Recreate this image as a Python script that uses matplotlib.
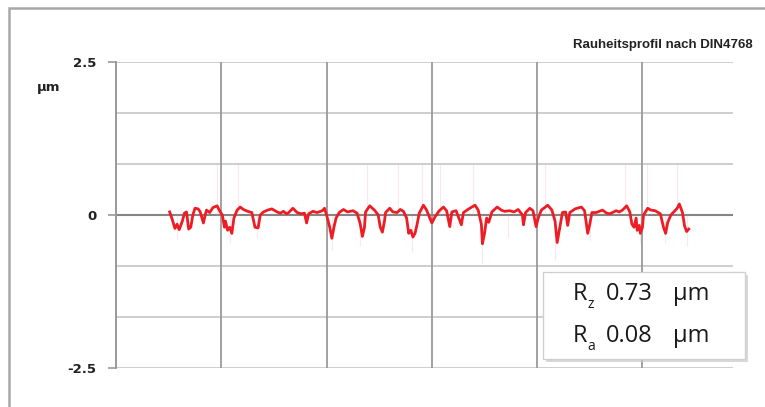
import matplotlib.pyplot as plt
import numpy as np
from matplotlib.patches import Rectangle

# Rauheitsprofil (gefiltert), x in mm, z in µm
profil_x = [
    0.51, 0.53, 0.56, 0.58, 0.60, 0.63, 0.65, 0.67, 0.69, 0.71, 0.73, 0.75, 0.78, 0.80,
    0.83, 0.85, 0.86, 0.89, 0.92, 0.96, 0.99, 1.01, 1.03, 1.04, 1.06, 1.08, 1.10, 1.12,
    1.15, 1.18, 1.21, 1.25, 1.29, 1.32, 1.35, 1.37, 1.40, 1.44, 1.48, 1.53, 1.56, 1.59,
    1.62, 1.64, 1.68, 1.72, 1.76, 1.79, 1.81, 1.83, 1.87, 1.91, 1.96, 1.98, 2.00, 2.03,
    2.05, 2.07, 2.09, 2.12, 2.16, 2.20, 2.25, 2.29, 2.32, 2.34, 2.36, 2.37, 2.41, 2.46,
    2.49, 2.51, 2.53, 2.55, 2.56, 2.60, 2.63, 2.67, 2.70, 2.73, 2.76, 2.78, 2.80, 2.82,
    2.84, 2.86, 2.88, 2.92, 2.95, 2.98, 3.00, 3.03, 3.07, 3.11, 3.14, 3.17, 3.19, 3.23,
    3.28, 3.30, 3.36, 3.41, 3.44, 3.47, 3.48, 3.50, 3.52, 3.54, 3.57, 3.62, 3.66, 3.69,
    3.74, 3.78, 3.82, 3.86, 3.87, 3.89, 3.93, 3.96, 3.99, 4.01, 4.04, 4.10, 4.14, 4.17,
    4.19, 4.21, 4.24, 4.27, 4.29, 4.31, 4.36, 4.42, 4.45, 4.48, 4.50, 4.52, 4.56, 4.62,
    4.66, 4.69, 4.75, 4.78, 4.81, 4.85, 4.88, 4.90, 4.92, 4.94, 4.95, 4.97, 4.98, 5.00,
    5.01, 5.05, 5.08, 5.12, 5.17, 5.20, 5.22, 5.24, 5.27, 5.33, 5.35, 5.38, 5.40, 5.42,
    5.44,
]
profil_z = [
    0.05, -0.05, -0.22, -0.15, -0.24, -0.10, 0.03, 0.05, -0.23, -0.20, 0.00, 0.11, 0.10, 0.05,
    -0.13, 0.02, 0.08, 0.04, 0.12, 0.15, 0.05, 0.00, -0.20, -0.10, -0.25, -0.20, -0.30, -0.05,
    0.08, 0.13, 0.09, 0.06, 0.04, -0.20, -0.21, 0.00, 0.05, 0.08, 0.10, 0.05, 0.03, 0.06,
    0.02, 0.04, 0.11, 0.04, 0.02, 0.03, -0.13, 0.02, 0.06, 0.04, 0.07, 0.11, 0.00, -0.20,
    -0.38, -0.20, -0.05, 0.04, 0.09, 0.05, 0.07, 0.03, -0.15, -0.35, -0.20, 0.05, 0.15, 0.07,
    0.00, -0.20, -0.28, -0.10, 0.04, 0.11, 0.05, 0.04, 0.09, 0.06, -0.05, -0.30, -0.25, -0.36,
    -0.30, -0.15, 0.03, 0.16, 0.08, -0.05, -0.13, -0.03, 0.07, 0.13, 0.07, -0.19, 0.05, 0.07,
    -0.16, 0.04, 0.11, 0.16, 0.08, -0.15, -0.47, -0.30, -0.05, -0.12, 0.05, 0.13, 0.08, 0.06,
    0.07, 0.05, 0.09, 0.00, -0.16, 0.04, 0.11, 0.07, -0.19, -0.05, 0.08, 0.16, 0.08, -0.10,
    -0.45, -0.25, 0.04, 0.05, -0.17, 0.04, 0.10, 0.13, 0.07, -0.30, -0.15, 0.04, 0.04, 0.08,
    0.03, 0.02, 0.07, 0.05, 0.08, 0.15, 0.05, -0.15, -0.20, -0.05, -0.25, -0.17, -0.30, -0.20,
    0.00, 0.11, 0.08, 0.07, 0.02, -0.20, -0.30, -0.12, 0.00, 0.11, 0.18, 0.04, -0.18, -0.27,
    -0.23,
]

# Ausreisser des ungefilterten Profils
spitzen_x = [0.96, 1.16, 2.38, 2.68, 2.91, 3.08, 3.39, 4.07, 4.83, 5.04, 5.33,
             0.58, 1.08, 1.34, 2.05, 2.32, 2.81, 3.48, 3.72, 4.17, 4.50, 4.98, 5.21, 5.42]
spitzen_z = [0.85, 0.85, 0.84, 0.84, 0.85, 0.83, 0.84, 0.84, 0.84, 0.85, 0.83,
             -0.40, -0.45, -0.38, -0.57, -0.50, -0.60, -0.78, -0.36, -0.73, -0.42, -0.45, -0.45, -0.50]

rz = 0.73
ra = 0.08

fig = plt.figure(figsize=(7.65, 4.07), dpi=100)
W, H = 765, 407

# Rahmen um das Diagramm
fig.patches.append(Rectangle((9 / W, -0.05), 1.0, 1 - 8 / H + 0.05,
                             transform=fig.transFigure, fill=False,
                             edgecolor='#a8a8a8', linewidth=1.8))

ax = fig.add_axes([116 / W, 1 - 368 / H, (733 - 116) / W, (368 - 62) / H])
ax.set_xlim(0, 5.86)
ax.set_ylim(-2.5, 2.5)

for s in ['top', 'right', 'bottom']:
    ax.spines[s].set_visible(False)
ax.spines['left'].set_color('#999999')
ax.spines['left'].set_linewidth(1.4)

# Gitter
for y in np.linspace(-2.5, 2.5, 7):
    if y != 0:
        ax.axhline(y, color='#c6c6c6', linewidth=1.2, zorder=0)
for x in range(1, 6):
    ax.axvline(x, color='#9a9a9a', linewidth=1.3, zorder=0)
ax.axhline(0, color='#858585', linewidth=1.5, zorder=1)

ax.vlines(spitzen_x, 0, spitzen_z, color='#f5b0b0', linewidth=0.8, alpha=0.3, zorder=2)
ax.plot(profil_x, profil_z, color='#ee1c24', linewidth=2.0, zorder=3)

ax.set_xticks([])
ax.set_yticks([-2.5, 0, 2.5])
ax.set_yticklabels(['-2.5', '0', '2.5'])
ax.tick_params(axis='y', length=6, width=1.2, color='#999999', pad=8,
               labelsize=9.5, labelcolor='#222222')
for t in ax.get_yticklabels():
    t.set_fontweight('bold')

fig.text(37 / W, 1 - 88 / H, 'µm', fontsize=9.5, fontweight='bold',
         ha='left', va='center', color='#222222')
fig.text(753 / W, 1 - 45 / H, 'Rauheitsprofil nach DIN4768', fontsize=9.5,
         fontweight='bold', ha='right', va='center', color='#222222',
         family='Liberation Sans')

# Kennwert-Box mit Schatten
bx0, by0, bx1, by1 = 543, 272, 745, 359
fig.patches.append(Rectangle(((bx0 + 3) / W, 1 - (by1 + 3) / H), (bx1 - bx0) / W,
                             (by1 - by0) / H, transform=fig.transFigure,
                             facecolor='#c8c8c8', edgecolor='none', alpha=0.7))
fig.patches.append(Rectangle((bx0 / W, 1 - by1 / H), (bx1 - bx0) / W, (by1 - by0) / H,
                             transform=fig.transFigure, facecolor='white',
                             edgecolor='#d0d0d0', linewidth=1))

zeilen = [('z', rz, 294), ('a', ra, 336)]
for sub, wert, yp in zeilen:
    fig.text(573 / W, 1 - yp / H, 'R', fontsize=17, ha='left', va='center',
             color='#1a1a1a', family='Open Sans')
    fig.text(587 / W, 1 - (yp + 11) / H, sub, fontsize=10, ha='left', va='center',
             color='#1a1a1a', family='Open Sans')
    fig.text(606 / W, 1 - yp / H, f'{wert:.2f}', fontsize=17, ha='left', va='center',
             color='#1a1a1a', family='Open Sans')
    fig.text(673 / W, 1 - yp / H, 'µm', fontsize=17, ha='left', va='center',
             color='#1a1a1a', family='Open Sans')

fig.savefig('out.png', dpi=100)
